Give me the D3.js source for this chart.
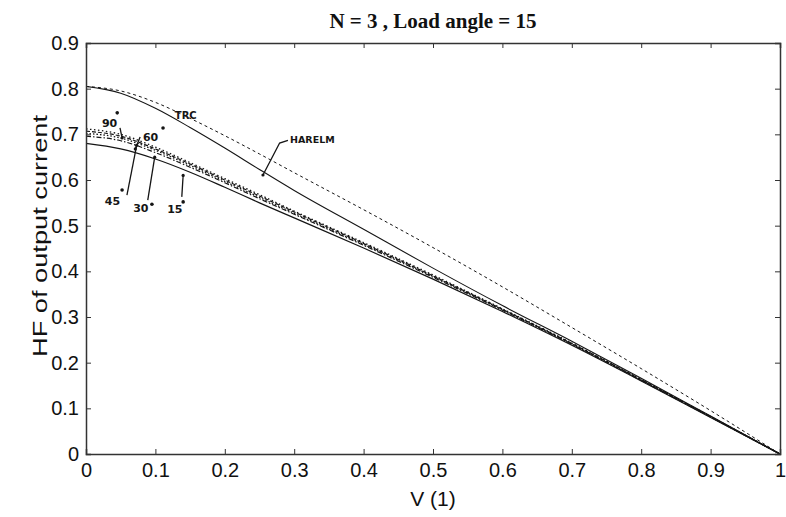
<!DOCTYPE html>
<html>
<head>
<meta charset="utf-8">
<script src="https://cdn.jsdelivr.net/npm/d3@7"></script>
<style>
  body { margin: 0; background: #fff; }
  svg { display: block; }
</style>
</head>
<body>
<script>
// values
const vGrid = [0, 0.05, 0.1, 0.15, 0.2, 0.25, 0.3, 0.4, 0.5, 0.6, 0.7, 0.8, 0.9, 1.0];
const trc = [0.805, 0.795, 0.770, 0.735, 0.697, 0.657, 0.616, 0.535, 0.452, 0.366, 0.277, 0.187, 0.095, 0];
const harelm = [0.805, 0.790, 0.757, 0.715, 0.670, 0.623, 0.577, 0.492, 0.407, 0.325, 0.247, 0.166, 0.083, 0];
const deg90 = [0.712, 0.700, 0.672, 0.638, 0.603, 0.568, 0.532, 0.463, 0.392, 0.318, 0.243, 0.163, 0.082, 0];
const deg60 = [0.707, 0.696, 0.668, 0.635, 0.600, 0.565, 0.530, 0.461, 0.390, 0.317, 0.242, 0.163, 0.082, 0];
const deg45 = [0.702, 0.692, 0.665, 0.632, 0.597, 0.562, 0.527, 0.459, 0.389, 0.316, 0.241, 0.162, 0.081, 0];
const deg30 = [0.696, 0.686, 0.660, 0.628, 0.594, 0.559, 0.525, 0.457, 0.387, 0.315, 0.240, 0.161, 0.081, 0];
const deg15 = [0.680, 0.668, 0.646, 0.617, 0.584, 0.550, 0.517, 0.451, 0.383, 0.312, 0.238, 0.160, 0.080, 0];

const xTicks = [0, 0.1, 0.2, 0.3, 0.4, 0.5, 0.6, 0.7, 0.8, 0.9, 1];
const yTicks = [0, 0.1, 0.2, 0.3, 0.4, 0.5, 0.6, 0.7, 0.8, 0.9];

const width = 786;
const height = 517;
const margin = { top: 43, right: 6, bottom: 63, left: 86 };

const x = d3.scaleLinear().domain([0, 1]).range([margin.left, width - margin.right]);
const y = d3.scaleLinear().domain([0, 0.9]).range([height - margin.bottom, margin.top]);

const svg = d3.select("body").append("svg")
    .attr("width", width)
    .attr("height", height);

const ink = "#151515";

// curves
const series = [
    { name: "TRC", values: trc, dash: "3,3", w: 1 },
    { name: "HARELM", values: harelm, dash: null, w: 1.1 },
    { name: "90", values: deg90, dash: "1.5,2.5", w: 1.3 },
    { name: "60", values: deg60, dash: "4,2", w: 1.2 },
    { name: "45", values: deg45, dash: "1.5,2", w: 1.3 },
    { name: "30", values: deg30, dash: "5,2,1.5,2", w: 1.2 },
    { name: "15", values: deg15, dash: null, w: 1.2 }
];

const line = d3.line()
    .x((d) => x(d[0]))
    .y((d) => y(d[1]))
    .curve(d3.curveMonotoneX);

svg.append("g")
    .attr("fill", "none")
    .attr("stroke", ink)
    .selectAll("path")
    .data(series)
    .enter()
    .append("path")
    .attr("d", (s) => line(vGrid.map((v, i) => [v, s.values[i]])))
    .attr("stroke-width", (s) => s.w)
    .attr("stroke-dasharray", (s) => s.dash);

// axes box with inward ticks
const xAxisB = d3.axisBottom(x).tickValues(xTicks).tickSize(-5).tickPadding(9).tickFormat((d) => d);
const yAxisL = d3.axisLeft(y).tickValues(yTicks).tickSize(-5).tickPadding(7).tickFormat((d) => d);
const xAxisT = d3.axisTop(x).tickValues(xTicks).tickSize(-5).tickFormat("");
const yAxisR = d3.axisRight(y).tickValues(yTicks).tickSize(-5).tickFormat("");

const axes = [
    svg.append("g").attr("transform", `translate(0,${y(0)})`).call(xAxisB),
    svg.append("g").attr("transform", `translate(${x(0)},0)`).call(yAxisL),
    svg.append("g").attr("transform", `translate(0,${y(0.9)})`).call(xAxisT),
    svg.append("g").attr("transform", `translate(${x(1)},0)`).call(yAxisR)
];
axes.forEach((g) => {
    g.select(".domain").attr("stroke", "#333").attr("stroke-width", 1.5);
    g.selectAll(".tick line").attr("stroke", "#333");
    g.selectAll(".tick text")
        .attr("fill", "#111")
        .style("font-family", "'Liberation Sans', Arial, sans-serif")
        .style("font-size", "20px");
});

// titles
svg.append("text")
    .attr("x", 433)
    .attr("y", 28)
    .attr("text-anchor", "middle")
    .style("font-family", "'Liberation Serif', 'Times New Roman', serif")
    .style("font-weight", "bold")
    .style("font-size", "21px")
    .attr("fill", "#111")
    .text("N = 3 , Load angle = 15");

svg.append("text")
    .attr("x", x(0.5))
    .attr("y", 506)
    .attr("text-anchor", "middle")
    .style("font-family", "'Liberation Sans', Arial, sans-serif")
    .style("font-size", "21px")
    .attr("fill", "#111")
    .text("V (1)");

svg.append("text")
    .attr("transform", `translate(47,236) rotate(-90)`)
    .attr("text-anchor", "middle")
    .attr("textLength", 242)
    .attr("lengthAdjust", "spacingAndGlyphs")
    .style("font-family", "'Liberation Sans', Arial, sans-serif")
    .style("font-size", "21px")
    .attr("fill", "#111")
    .text("HF of output current");

// annotations (data coordinates)
const labels = [
    { text: "TRC", at: [0.128, 0.733], size: 10, dot: null, lead: null },
    { text: "HARELM", at: [0.294, 0.681], size: 9.5, dot: null,
      lead: [[0.291, 0.687], [0.279, 0.681], [0.255, 0.611]] },
    { text: "90", at: [0.023, 0.716], size: 11, dot: [0.045, 0.747],
      lead: [[0.049, 0.714], [0.052, 0.692]] },
    { text: "60", at: [0.082, 0.685], size: 11, dot: [0.111, 0.714],
      lead: [[0.078, 0.694], [0.071, 0.668]] },
    { text: "45", at: [0.027, 0.545], size: 11, dot: [0.052, 0.578],
      lead: [[0.059, 0.567], [0.073, 0.676]] },
    { text: "30", at: [0.068, 0.530], size: 11, dot: [0.095, 0.547],
      lead: [[0.089, 0.556], [0.099, 0.650]] },
    { text: "15", at: [0.117, 0.528], size: 11, dot: [0.140, 0.552],
      lead: [[0.138, 0.563], [0.140, 0.610]] }
];

const ann = svg.append("g");
labels.forEach((l) => {
    ann.append("text")
        .attr("x", x(l.at[0]))
        .attr("y", y(l.at[1]))
        .style("font-family", "'DejaVu Sans', Arial, sans-serif")
        .style("font-weight", "bold")
        .style("font-size", `${l.size}px`)
        .attr("fill", ink)
        .text(l.text);
    if (l.dot) {
        ann.append("circle")
            .attr("cx", x(l.dot[0]))
            .attr("cy", y(l.dot[1]))
            .attr("r", 1.8)
            .attr("fill", ink);
    }
    if (l.lead) {
        ann.append("path")
            .attr("d", d3.line().x((d) => x(d[0])).y((d) => y(d[1])).curve(d3.curveLinear)(l.lead))
            .attr("fill", "none")
            .attr("stroke", ink)
            .attr("stroke-width", 1.3);
        const p = l.lead[l.lead.length - 1];
        ann.append("circle")
            .attr("cx", x(p[0]))
            .attr("cy", y(p[1]))
            .attr("r", 1.6)
            .attr("fill", ink);
    }
});
</script>
</body>
</html>
